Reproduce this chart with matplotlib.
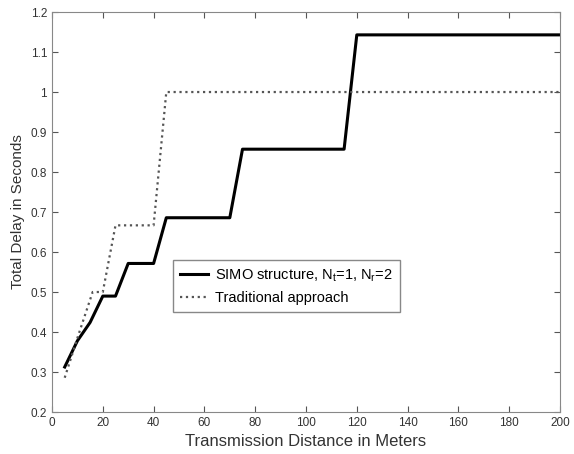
import matplotlib
matplotlib.use('Agg')
import matplotlib.pyplot as plt

plt.rcParams['font.family'] = ['Liberation Sans', 'DejaVu Sans']

# SIMO structure (solid)
simo_x = [5, 10, 15, 20, 25, 30, 40, 45, 70, 75, 115, 120, 200]
simo_y = [0.3125, 0.378, 0.424, 0.4898, 0.4898, 0.5714, 0.5714, 0.6857, 0.6857, 0.8571, 0.8571, 1.1429, 1.1429]

# Traditional approach (dotted)
trad_x = [5, 10, 16, 20, 25, 40, 45, 200]
trad_y = [0.2857, 0.385, 0.5, 0.5, 0.6667, 0.6667, 1.0, 1.0]

xticks = [0, 20, 40, 60, 80, 100, 120, 140, 160, 180, 200]
yticks = [0.2, 0.3, 0.4, 0.5, 0.6, 0.7, 0.8, 0.9, 1.0, 1.1, 1.2]
ytick_labels = ['0.2', '0.3', '0.4', '0.5', '0.6', '0.7', '0.8', '0.9', '1', '1.1', '1.2']

fig = plt.figure(figsize=(5.74, 4.54), dpi=100)
ax = fig.add_axes([0.0906, 0.0925, 0.885, 0.881])

ax.plot(simo_x, simo_y, 'k-', lw=2.2, label='SIMO structure, N$_\\mathregular{t}$=1, N$_\\mathregular{r}$=2')
ax.plot(trad_x, trad_y, ':', color='#555555', lw=1.6, label='Traditional approach')

ax.set_xlim(0, 200)
ax.set_ylim(0.2, 1.2)
ax.set_xticks(xticks)
ax.set_yticks(yticks)
ax.set_yticklabels(ytick_labels)
ax.tick_params(direction='in', top=True, right=True, labelsize=8.5, colors='#555555',
               labelcolor='#333333', length=4)
for s in ax.spines.values():
    s.set_color('#888888')

ax.set_xlabel('Transmission Distance in Meters', fontsize=12, color='#333333')
ax.set_ylabel('Total Delay in Seconds', fontsize=11, color='#333333')

leg = ax.legend(loc='lower left', bbox_to_anchor=(0.238, 0.25), fontsize=10.5,
                fancybox=False, framealpha=1, edgecolor='#888888', borderpad=0.5,
                borderaxespad=0, handlelength=1.9, handletextpad=0.5, labelspacing=0.45)
leg.get_frame().set_linewidth(1.0)

fig.savefig('out.png', dpi=100)
